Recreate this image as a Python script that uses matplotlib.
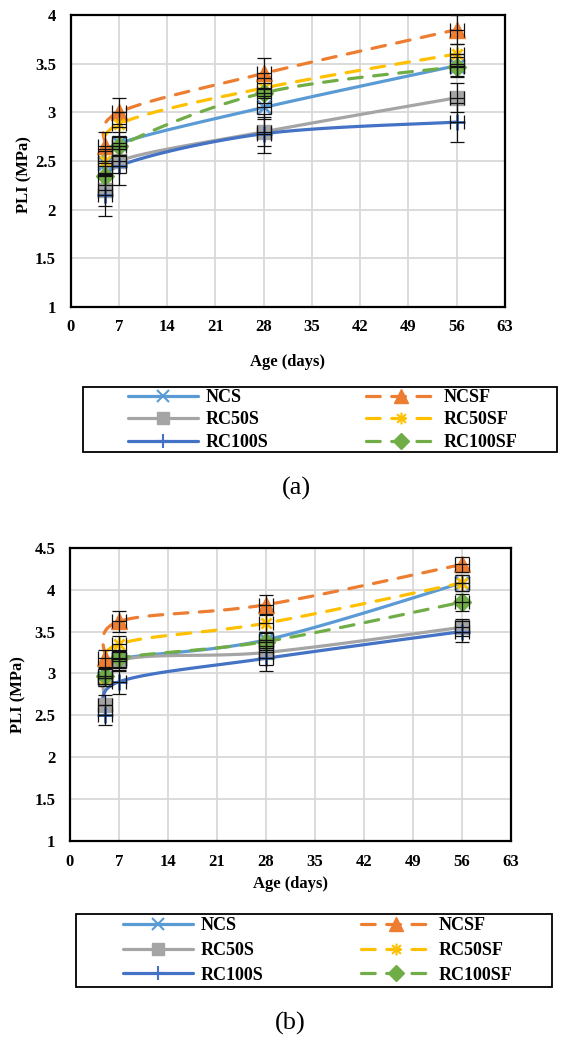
import numpy as np
import matplotlib.pyplot as plt
from matplotlib.lines import Line2D
from matplotlib.patches import Rectangle
from matplotlib.path import Path

plt.rcParams['font.family'] = ['Liberation Serif', 'DejaVu Serif']
plt.rcParams['font.weight'] = 'bold'
plt.rcParams['axes.labelweight'] = 'bold'

# ---- data -------------------------------------------------------------
age = [5, 7, 28, 56]
series = ['NCS', 'NCSF', 'RC50S', 'RC50SF', 'RC100S', 'RC100SF']

# panel (a)
ncs_a = [2.48, 2.68, 3.05, 3.48]
ncsf_a = [2.65, 3.00, 3.40, 3.85]
rc50s_a = [2.20, 2.50, 2.80, 3.15]
rc50sf_a = [2.50, 2.88, 3.25, 3.60]
rc100s_a = [2.15, 2.45, 2.78, 2.90]
rc100sf_a = [2.35, 2.65, 3.20, 3.47]

err_ncs_a = [0.12, 0.12, 0.12, 0.12]
err_ncsf_a = [0.15, 0.15, 0.16, 0.15]
err_rc50s_a = [0.16, 0.12, 0.15, 0.15]
err_rc50sf_a = [0.12, 0.12, 0.10, 0.10]
err_rc100s_a = [0.22, 0.20, 0.20, 0.20]
err_rc100sf_a = [0.10, 0.10, 0.10, 0.10]

# panel (b)
ncs_b = [2.95, 3.17, 3.40, 4.08]
ncsf_b = [3.18, 3.62, 3.82, 4.30]
rc50s_b = [2.62, 3.15, 3.25, 3.55]
rc50sf_b = [2.95, 3.35, 3.60, 4.08]
rc100s_b = [2.50, 2.90, 3.18, 3.50]
rc100sf_b = [2.97, 3.18, 3.38, 3.85]

err_ncs_b = [0.10, 0.10, 0.10, 0.10]
err_ncsf_b = [0.10, 0.12, 0.11, 0.09]
err_rc50s_b = [0.12, 0.12, 0.15, 0.10]
err_rc50sf_b = [0.10, 0.10, 0.10, 0.10]
err_rc100s_b = [0.12, 0.14, 0.15, 0.13]
err_rc100sf_b = [0.10, 0.10, 0.10, 0.10]

# ---- style ------------------------------------------------------------
colors = ['#5B9BD5', '#ED7D31', '#A5A5A5', '#FFC000', '#4472C4', '#70AD47']
asterisk = Path([(-1, -1), (1, 1), (-1, 1), (1, -1), (0, -1.35), (0, 1.35)],
                [Path.MOVETO, Path.LINETO, Path.MOVETO, Path.LINETO, Path.MOVETO, Path.LINETO])
markers = ['x', '^', 's', asterisk, '+', 'D']
msizes = [10, 11.5, 10, 10, 12, 9.5]
dashed = [False, True, False, True, False, True]


def smooth(x, y, n=40):
    # excel-like smoothed line (bezier through the points)
    x = np.asarray(x, float)
    y = np.asarray(y, float)
    px = np.concatenate([[x[0]], x, [x[-1]]])
    py = np.concatenate([[y[0]], y, [y[-1]]])
    t = np.linspace(0, 1, n)[:, None]
    out = []
    for i in range(len(x) - 1):
        p0 = np.array([px[i], py[i]])
        p1 = np.array([px[i + 1], py[i + 1]])
        p2 = np.array([px[i + 2], py[i + 2]])
        p3 = np.array([px[i + 3], py[i + 3]])
        c1 = p1 + (p2 - p0) / 6
        c2 = p2 - (p3 - p1) / 6
        seg = ((1 - t) ** 3) * p1 + 3 * ((1 - t) ** 2) * t * c1 + 3 * (1 - t) * t ** 2 * c2 + t ** 3 * p2
        out.append(seg)
    out = np.vstack(out)
    return out[:, 0], out[:, 1]


def line_kw(i):
    kw = dict(color=colors[i], lw=2.3, solid_capstyle='round', dash_capstyle='round')
    if dashed[i]:
        kw['dashes'] = (4.3, 3.6)
    return kw


def edge_w(i):
    return 2 if markers[i] in ('x', '+') or i == 3 else 1


def draw_panel(ax, values, errors, ymax):
    for i, (y, e) in enumerate(zip(values, errors)):
        xs, ys = smooth(age, y)
        ax.plot(xs, ys, zorder=2 + i * 0.01, **line_kw(i))
        ax.plot(age, y, ls='none', marker=markers[i], ms=msizes[i], color=colors[i],
                mec=colors[i], mew=edge_w(i), zorder=3)
        ax.errorbar(age, y, yerr=e, xerr=1, fmt='none', ecolor='#111111', elinewidth=0.9,
                    capsize=4.8, capthick=0.9, zorder=4)
    yt = np.arange(1, ymax + 0.01, 0.5)
    ax.set_xlim(0, 63)
    ax.set_ylim(1, ymax)
    ax.set_xticks(range(0, 64, 7))
    ax.set_yticks(yt)
    ax.set_yticklabels([('%g' % v) for v in yt])
    ax.grid(True, color='#D9D9D9', lw=1.3)
    ax.set_axisbelow(True)
    for s in ax.spines.values():
        s.set_linewidth(1.6)
        s.set_color('black')
    ax.tick_params(length=0, labelsize=12)
    ax.tick_params(axis='x', pad=9)
    ax.tick_params(axis='y', pad=10.5)
    for lab in ax.get_xticklabels() + ax.get_yticklabels():
        lab.set_fontweight('bold')


def draw_legend(fig, box, anchor, spacing):
    W, H = 568, 1037
    x0, y0, x1, y1 = box
    fig.patches.append(Rectangle((x0 / W, 1 - y1 / H), (x1 - x0) / W, (y1 - y0) / H,
                                 transform=fig.transFigure, fill=False, ec='black', lw=1.3))
    handles = []
    for i, name in enumerate(series):
        handles.append(Line2D([], [], marker=markers[i], ms=msizes[i] * 0.85, mec=colors[i],
                              mew=1.5 if edge_w(i) > 1 else 1, label=name, **line_kw(i)))
    order = [0, 2, 4, 1, 3, 5]
    fig.legend([handles[k] for k in order], [series[k] for k in order], ncol=2,
               loc='center left', bbox_to_anchor=(anchor[0] / W, 1 - anchor[1] / H),
               frameon=False, prop=dict(size=13, weight='bold'), handlelength=3.9,
               handletextpad=0.4, columnspacing=5.4, labelspacing=spacing, borderpad=0,
               borderaxespad=0, numpoints=1)


fig = plt.figure(figsize=(5.68, 10.37), dpi=100)
W, H = 568, 1037

ax1 = fig.add_axes([70.7 / W, 1 - 307 / H, (505 - 70.7) / W, (307 - 15) / H])
draw_panel(ax1, [ncs_a, ncsf_a, rc50s_a, rc50sf_a, rc100s_a, rc100sf_a],
           [err_ncs_a, err_ncsf_a, err_rc50s_a, err_rc50sf_a, err_rc100s_a, err_rc100sf_a], 4)
ax1.set_xlabel('Age (days)', fontsize=12, fontweight='bold', labelpad=13)
ax1.set_ylabel('PLI (MPa)', fontsize=12, fontweight='bold')
ax1.yaxis.set_label_coords(-38.7 / 434.3, 0.452)

ax2 = fig.add_axes([70 / W, 1 - 841 / H, (511 - 70) / W, (841 - 547.7) / H])
draw_panel(ax2, [ncs_b, ncsf_b, rc50s_b, rc50sf_b, rc100s_b, rc100sf_b],
           [err_ncs_b, err_ncsf_b, err_rc50s_b, err_rc50sf_b, err_rc100s_b, err_rc100sf_b], 4.5)
ax2.set_xlabel('Age (days)', fontsize=12, fontweight='bold', labelpad=4.5)
ax2.set_ylabel('PLI (MPa)', fontsize=12, fontweight='bold')
ax2.yaxis.set_label_coords(-44 / 441, 0.5)

draw_legend(fig, (83, 387, 557, 452), (128, 420), 0.3)
draw_legend(fig, (76, 914, 552, 987), (123, 950.5), 0.42)

fig.text(296 / W, 1 - 488 / H, '(a)', fontsize=19, fontweight='normal', ha='center', va='center')
fig.text(290 / W, 1 - 1023 / H, '(b)', fontsize=19, fontweight='normal', ha='center', va='center')

fig.savefig('out.png', dpi=100)
